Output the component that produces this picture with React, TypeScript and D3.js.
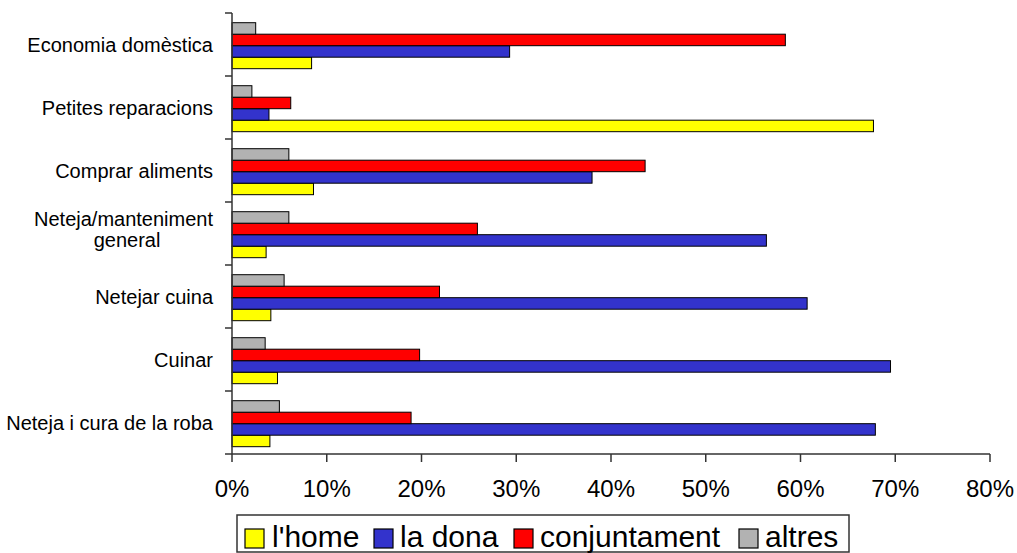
import React from "react";
import * as d3 from "d3";

const categories = [
  "Economia domèstica",
  "Petites reparacions",
  "Comprar aliments",
  "Neteja/manteniment general",
  "Netejar cuina",
  "Cuinar",
  "Neteja i cura de la roba",
];
const categoryLines = [
  ["Economia domèstica"],
  ["Petites reparacions"],
  ["Comprar aliments"],
  ["Neteja/manteniment", "general"],
  ["Netejar cuina"],
  ["Cuinar"],
  ["Neteja i cura de la roba"],
];

const seriesNames = ["l'home", "la dona", "conjuntament", "altres"];
const seriesColors = ["#FFFF00", "#3333CC", "#FF0000", "#B2B2B2"];

const lHome = [8.4, 67.7, 8.6, 3.6, 4.1, 4.8, 4.0];
const laDona = [29.3, 3.9, 38.0, 56.4, 60.7, 69.5, 67.9];
const conjuntament = [58.4, 6.2, 43.6, 25.9, 21.9, 19.8, 18.9];
const altres = [2.5, 2.1, 6.0, 6.0, 5.5, 3.5, 5.0];

const seriesValues = [lHome, laDona, conjuntament, altres];
const xTicks = [0, 10, 20, 30, 40, 50, 60, 70, 80];

export default function App() {
  const W = 1017;
  const H = 553;
  const left = 232;
  const right = 990;
  const top = 13;
  const bottom = 454;

  const x = d3.scaleLinear().domain([0, 80]).range([left, right]);
  const y = d3
    .scaleBand<string>()
    .domain(categories)
    .range([top, bottom])
    .padding(0);
  // order within a category, top to bottom
  const inner = d3
    .scaleBand<string>()
    .domain(["altres", "conjuntament", "la dona", "l'home"])
    .range([0, y.step()])
    .paddingInner(0)
    .paddingOuter(0.74)
    .align(0.57);

  const boundaries = categories.map((c) => y(c) as number).concat([bottom]);
  const font = "'Liberation Sans', Arial, sans-serif";

  // legend layout
  const legendFont = 30;
  const legendItems = [
    { name: "l'home", sw: 245, tx: 272 },
    { name: "la dona", sw: 374, tx: 400 },
    { name: "conjuntament", sw: 514, tx: 540 },
    { name: "altres", sw: 739, tx: 765 },
  ];

  return (
    <svg
      width={W}
      height={H}
      style={{ position: "absolute", left: 0, top: 0, background: "#fff" }}
      fontFamily={font}
    >
      {/* bars */}
      {categories.map((c, ci) => (
        <g key={c}>
          {seriesNames.map((s, si) => {
            const v = seriesValues[si][ci];
            const yy = (y(c) as number) + (inner(s) as number);
            return (
              <rect
                key={s}
                x={x(0)}
                y={yy}
                width={x(v) - x(0)}
                height={inner.bandwidth()}
                fill={seriesColors[si]}
                stroke="#000"
                strokeWidth={1}
              />
            );
          })}
        </g>
      ))}

      {/* y axis */}
      <line x1={left} x2={left} y1={top} y2={bottom} stroke="#333" strokeWidth={1.5} />
      {boundaries.map((b, i) => (
        <line key={i} x1={left - 7} x2={left} y1={b} y2={b} stroke="#333" strokeWidth={1.5} />
      ))}
      {/* x axis */}
      <line x1={left} x2={right} y1={bottom} y2={bottom} stroke="#333" strokeWidth={1.5} />
      {xTicks.map((t) => (
        <g key={t}>
          <line x1={x(t)} x2={x(t)} y1={bottom} y2={bottom + 8} stroke="#333" strokeWidth={1.5} />
          <text
            x={x(t)}
            y={bottom + 43}
            textAnchor="middle"
            fontSize={24}
            fill="#000"
          >
            {t + "%"}
          </text>
        </g>
      ))}

      {/* category labels */}
      {categories.map((c, ci) => {
        const cy = (y(c) as number) + y.bandwidth() / 2;
        const lines = categoryLines[ci];
        if (lines.length === 1) {
          return (
            <text key={c} x={213} y={cy + 7} textAnchor="end" fontSize={20} fill="#000">
              {lines[0]}
            </text>
          );
        }
        return (
          <g key={c}>
            <text x={213} y={cy - 8} textAnchor="end" fontSize={20} fill="#000">
              {lines[0]}
            </text>
            <text x={127} y={cy + 13} textAnchor="middle" fontSize={20} fill="#000">
              {lines[1]}
            </text>
          </g>
        );
      })}

      {/* legend */}
      <rect x={237} y={515} width={612} height={37} fill="#fff" stroke="#333" strokeWidth={1.5} />
      {legendItems.map((it) => {
        const si = seriesNames.indexOf(it.name);
        return (
          <g key={it.name}>
            <rect x={it.sw} y={529} width={19} height={19} fill={seriesColors[si]} stroke="#000" strokeWidth={1.2} />
            <text x={it.tx} y={547} fontSize={legendFont} fill="#000">
              {it.name}
            </text>
          </g>
        );
      })}
    </svg>
  );
}
